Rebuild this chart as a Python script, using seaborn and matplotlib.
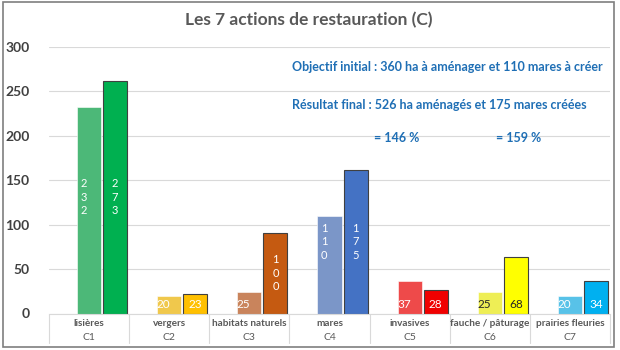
import matplotlib
matplotlib.use("Agg")
import matplotlib.pyplot as plt
import matplotlib.transforms as mtransforms
from matplotlib.patches import Rectangle
import seaborn as sns
import pandas as pd

# ---------------- data ----------------
categories = ["lisières", "vergers", "habitats naturels", "mares",
              "invasives", "fauche / pâturage", "prairies fleuries"]
codes = ["C1", "C2", "C3", "C4", "C5", "C6", "C7"]
# bar heights as drawn
initial_heights = [233, 20, 24, 110, 37, 24, 20]
final_heights = [262, 22, 91, 161, 26, 64, 37]
# data labels as printed
initial_labels = ["232", "20", "25", "110", "37", "25", "20"]
final_labels = ["273", "23", "100", "175", "28", "68", "34"]
light_colors = ["#4cb878", "#f0c84c", "#c9845c", "#7b96c8", "#ee4a4a", "#eeee55", "#58c2e8"]
dark_colors = ["#00b050", "#ffc000", "#c55a11", "#4472c4", "#f00000", "#ffff00", "#00b0f0"]
dark_label_cats = ["fauche / pâturage"]
title = "Les 7 actions de restauration (C)"
notes = ["Objectif initial : 360 ha à aménager et 110 mares à créer",
         "Résultat final : 526 ha aménagés et 175 mares créées",
         "= 146 %", "= 159 %"]
yticks = [0, 50, 100, 150, 200, 250, 300]

# ---------------- style ----------------
sns.set_theme(style="white")
plt.rcParams["font.family"] = ["Lato", "DejaVu Sans"]

W, H = 620, 350
fig = plt.figure(figsize=(W / 100, H / 100), dpi=100)
fig.patch.set_facecolor("white")

def fx(px):
    return px / W

def fy(py):
    return 1 - py / H

ax = fig.add_axes([fx(49), fy(313.5), fx(610) - fx(49), fy(47) - fy(313.5)])

df1 = pd.DataFrame({"cat": categories, "val": initial_heights})
df2 = pd.DataFrame({"cat": categories, "val": final_heights})

sns.barplot(data=df1, x="cat", y="val", hue="cat", palette=light_colors,
            width=0.3, saturation=1, legend=False, ax=ax, order=categories,
            hue_order=categories)
n1 = len(ax.patches)
sns.barplot(data=df2, x="cat", y="val", hue="cat", palette=dark_colors,
            width=0.3, saturation=1, legend=False, ax=ax, order=categories,
            hue_order=categories)

bars1 = sorted(ax.patches[:n1], key=lambda p: p.get_x())
bars2 = sorted(ax.patches[n1:], key=lambda p: p.get_x())
shift = 0.325
for p in bars1:
    p.set_edgecolor("#ffffff")
    p.set_linewidth(0.4)
for p in bars2:
    p.set_x(p.get_x() + shift)
    p.set_edgecolor("#404040")
    p.set_linewidth(0.8)

ax.set_xlim(-0.5, 6.5)
ax.set_ylim(0, 300)
ax.set_yticks(yticks)
ax.set_yticklabels([str(t) for t in yticks], fontsize=10, fontweight="bold",
                   color="#404040")
ax.tick_params(axis="y", length=0, pad=14)
ax.set_xticks([])
ax.set_xlabel("")
ax.set_ylabel("")
ax.grid(axis="y", color="#d9d9d9", linewidth=0.8)
ax.set_axisbelow(True)
for s in ["top", "right", "left"]:
    ax.spines[s].set_visible(False)
ax.spines["bottom"].set_color("#d9d9d9")
ax.spines["bottom"].set_linewidth(0.8)

# ---------------- data labels ----------------
for i, cat in enumerate(categories):
    col = "#262626" if cat in dark_label_cats else "white"
    tallest = max(initial_heights[i], final_heights[i])
    for lab, xoff, h in ((initial_labels[i], -0.07, initial_heights[i]),
                         (final_labels[i], shift, final_heights[i])):
        if len(lab) >= 3:
            ax.text(i + xoff, tallest / 2, "\n".join(lab), ha="center", va="center",
                    fontsize=8, color=col, linespacing=1.3)
        else:
            ax.text(i + xoff, 10, lab, ha="center", va="center",
                    fontsize=8.5, color=col)

# ---------------- category axis ----------------
trans = mtransforms.blended_transform_factory(ax.transData, fig.transFigure)
for k in range(len(categories) + 1):
    ax.plot([k - 0.5, k - 0.5], [fy(313.5), fy(343)], transform=trans,
            color="#d9d9d9", linewidth=0.8, clip_on=False)
for i, (cat, code) in enumerate(zip(categories, codes)):
    ax.text(i, fy(323), cat, transform=trans, ha="center", va="center",
            fontsize=7.2, fontweight="bold", color="#595959")
    ax.text(i, fy(338), code, transform=trans, ha="center", va="center",
            fontsize=7.5, color="#595959")

# ---------------- title & notes ----------------
fig.text(fx(309), fy(20), title, ha="center", va="center", fontsize=12.5,
         fontweight="bold", color="#595959")
blue = "#1f6fb5"
fig.text(fx(292), fy(67), notes[0], ha="left", va="center", fontsize=9,
         fontweight="bold", color=blue)
fig.text(fx(292), fy(105), notes[1], ha="left", va="center", fontsize=9,
         fontweight="bold", color=blue)
fig.text(fx(374), fy(138), notes[2], ha="left", va="center", fontsize=9,
         fontweight="bold", color=blue)
fig.text(fx(496), fy(138), notes[3], ha="left", va="center", fontsize=9,
         fontweight="bold", color=blue)

# ---------------- outer border ----------------
fig.patches.append(Rectangle((fx(3), fy(347)), fx(614) - fx(3), fy(2) - fy(347),
                             transform=fig.transFigure, fill=False,
                             edgecolor="#7f7f7f", linewidth=1.2))

fig.savefig("out.png", dpi=100, facecolor="white")
